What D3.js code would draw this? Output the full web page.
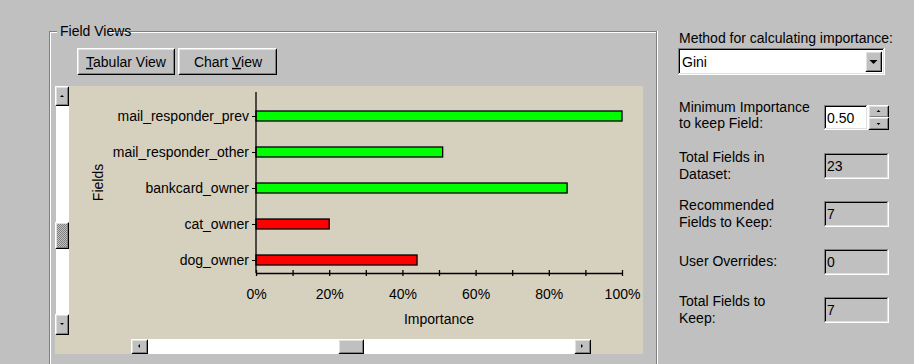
<!DOCTYPE html>
<html>
<head>
<meta charset="UTF-8">
<title>Field Views</title>
<style>
  body { margin: 0; background: #c0c0c0; }
  svg { display: block; font-family: "Liberation Sans", Arial, sans-serif; font-size: 14px; }
</style>
</head>
<body>
<script src="https://d3js.org/d3.v7.min.js"></script>
<svg width="914" height="364"></svg>
<script>
    let svg = d3.select("svg");

    // chart data
    let fields = ["mail_responder_prev", "mail_responder_other", "bankcard_owner", "cat_owner", "dog_owner"];
    let importance = [1.00, 0.51, 0.85, 0.20, 0.44];
    let kept = [true, true, true, false, false];
    let xTicks = [0, 0.1, 0.2, 0.3, 0.4, 0.5, 0.6, 0.7, 0.8, 0.9, 1.0];
    let xLabels = [0, 0.2, 0.4, 0.6, 0.8, 1.0];

    // side panel values
    let methodLabel = ["Method for calculating importance:"];
    let methodValue = "Gini";
    let minLabel = ["Minimum Importance", "to keep Field:"];
    let minValue = "0.50";
    let infoLabels = [
        ["Total Fields in", "Dataset:"],
        ["Recommended", "Fields to Keep:"],
        ["User Overrides:"],
        ["Total Fields to", "Keep:"]
    ];
    let infoValues = ["23", "7", "0", "7"];

    // classic windows 3d border
    function bevel(g, x, y, w, h, fill, tlo, bro, tli, bri) {
        g.append("rect").attr("x", x).attr("y", y).attr("width", w).attr("height", h).attr("fill", fill);
        let p = (d, c) => g.append("path").attr("d", d).attr("fill", "none").attr("stroke", c).attr("shape-rendering", "crispEdges");
        p(`M${x + 0.5},${y + h - 1}V${y + 0.5}H${x + w - 1}`, tlo);
        p(`M${x + 0.5},${y + h - 0.5}H${x + w - 0.5}V${y + 0.5}`, bro);
        p(`M${x + 1.5},${y + h - 2}V${y + 1.5}H${x + w - 2}`, tli);
        p(`M${x + 1.5},${y + h - 1.5}H${x + w - 1.5}V${y + 1.5}`, bri);
    }
    let raised = (g, x, y, w, h, fill) => bevel(g, x, y, w, h, fill || "#c0c0c0", "#ffffff", "#000000", "#dfdfdf", "#808080");
    let sunken = (g, x, y, w, h, fill) => bevel(g, x, y, w, h, fill, "#808080", "#ffffff", "#000000", "#dfdfdf");

    function arrow(g, cx, cy, dir, s) {
        let pts;
        if (dir == "up") pts = [[cx - s, cy + s / 2], [cx + s, cy + s / 2], [cx, cy - s / 2]];
        if (dir == "down") pts = [[cx - s, cy - s / 2], [cx + s, cy - s / 2], [cx, cy + s / 2]];
        if (dir == "left") pts = [[cx + s / 2, cy - s], [cx + s / 2, cy + s], [cx - s / 2, cy]];
        if (dir == "right") pts = [[cx - s / 2, cy - s], [cx - s / 2, cy + s], [cx + s / 2, cy]];
        g.append("polygon").attr("points", pts.map(p => p.join(",")).join(" ")).attr("fill", "#000");
    }

    let defs = svg.append("defs");
    let pat = defs.append("pattern").attr("id", "dither").attr("width", 2).attr("height", 2)
        .attr("patternUnits", "userSpaceOnUse");
    pat.append("rect").attr("width", 2).attr("height", 2).attr("fill", "#c0c0c0");
    pat.append("rect").attr("width", 1).attr("height", 1).attr("fill", "#808080");
    pat.append("rect").attr("x", 1).attr("y", 1).attr("width", 1).attr("height", 1).attr("fill", "#808080");

    // group box
    let frame = svg.append("g").attr("shape-rendering", "crispEdges").attr("fill", "none");
    frame.append("path").attr("d", "M49.5,364V31.5H656.5V364").attr("stroke", "#808080");
    frame.append("path").attr("d", "M50.5,364V32.5H655.5M657.5,31V364").attr("stroke", "#ffffff");
    svg.append("rect").attr("x", 57).attr("y", 24).attr("width", 51).attr("height", 14).attr("fill", "#c0c0c0");
    svg.append("text").attr("x", 60).attr("y", 36).text("Field Views");

    // buttons
    let btns = svg.append("g");
    raised(btns, 77, 48, 98, 27);
    raised(btns, 178, 48, 99, 27);
    let t1 = btns.append("text").attr("x", 126).attr("y", 62).attr("dy", "0.35em").attr("text-anchor", "middle");
    t1.append("tspan").attr("text-decoration", "underline").text("T");
    t1.append("tspan").text("abular View");
    let t2 = btns.append("text").attr("x", 228).attr("y", 62).attr("dy", "0.35em").attr("text-anchor", "middle");
    t2.append("tspan").text("Chart ");
    t2.append("tspan").attr("text-decoration", "underline").text("V");
    t2.append("tspan").text("iew");

    // chart panel
    svg.append("rect").attr("x", 55).attr("y", 86).attr("width", 588).attr("height", 268).attr("fill", "#d6d0bf");

    // vertical scrollbar
    let vs = svg.append("g");
    vs.append("rect").attr("x", 55).attr("y", 86).attr("width", 14).attr("height", 249).attr("fill", "#ffffff");
    vs.append("rect").attr("x", 55).attr("y", 86).attr("width", 1).attr("height", 249).attr("fill", "#c0c0c0");
    raised(vs, 55, 86, 14, 20);
    arrow(vs, 62, 96, "up", 2);
    raised(vs, 55, 222, 14, 27, "url(#dither)");
    raised(vs, 55, 314, 14, 21);
    arrow(vs, 62, 324, "down", 2);

    // horizontal scrollbar
    let hs = svg.append("g");
    hs.append("rect").attr("x", 131).attr("y", 339).attr("width", 460).attr("height", 15).attr("fill", "#ffffff");
    raised(hs, 131, 339, 17, 15);
    arrow(hs, 139, 346, "left", 2);
    raised(hs, 338, 339, 26, 15);
    raised(hs, 574, 339, 17, 15);
    arrow(hs, 582, 346, "right", 2);

    // scales
    let x = d3.scaleLinear().domain([0, 1]).range([256, 622]);
    let y = d3.scalePoint().domain(fields).range([116, 260]);
    let axisY = 273;

    let chart = svg.append("g");

    // bars
    chart.selectAll("rect.bar")
        .data(fields).enter()
        .append("rect")
        .attr("class", "bar")
        .attr("x", x(0))
        .attr("y", d => y(d) - 5)
        .attr("width", (d, i) => x(importance[i]) - x(0))
        .attr("height", 10)
        .attr("fill", (d, i) => kept[i] ? "#00ff00" : "#ff0000")
        .attr("stroke", "#000")
        .attr("stroke-width", 1.3);

    // y axis
    let yAxis = chart.append("g")
        .attr("transform", `translate(${x(0)},0)`)
        .call(d3.axisLeft(y).tickSizeInner(4).tickSizeOuter(0).tickPadding(3));
    yAxis.select(".domain").remove();
    yAxis.selectAll("text").attr("font-size", 14).attr("font-family", "Liberation Sans, Arial, sans-serif").attr("fill", "#000");
    yAxis.selectAll("line").attr("stroke", "#000");
    chart.append("line").attr("x1", x(0)).attr("x2", x(0)).attr("y1", 92).attr("y2", axisY)
        .attr("stroke", "#000").attr("stroke-width", 1.3);

    // x axis
    let xAxis = chart.append("g")
        .attr("transform", `translate(0,${axisY})`)
        .call(d3.axisBottom(x).tickValues(xTicks).tickSizeInner(3).tickSizeOuter(0)
            .tickFormat(d => xLabels.some(v => Math.abs(v - d) < 1e-9) ? d3.format(".0%")(d) : ""));
    xAxis.select(".domain").attr("stroke", "#000").attr("stroke-width", 1.3);
    xAxis.selectAll(".tick line").attr("y1", -3).attr("stroke", "#000").attr("stroke-width", 1.3);
    xAxis.selectAll(".tick text").attr("y", 21).attr("dy", "0.35em")
        .attr("font-size", 14).attr("font-family", "Liberation Sans, Arial, sans-serif").attr("fill", "#000");

    chart.append("text").attr("x", x(0.5)).attr("y", 319).attr("dy", "0.35em")
        .attr("text-anchor", "middle").text("Importance");
    chart.append("text").attr("transform", `translate(98,${(92 + axisY) / 2}) rotate(-90)`)
        .attr("dy", "0.35em").attr("text-anchor", "middle").text("Fields");

    // right panel
    let side = svg.append("g");
    side.append("text").attr("x", 679).attr("y", 38).attr("dy", "0.35em").text(methodLabel[0]);
    sunken(side, 678, 48, 207, 27, "#ffffff");
    side.append("text").attr("x", 682).attr("y", 62).attr("dy", "0.35em").text(methodValue);
    raised(side, 865, 51, 17, 21);
    arrow(side, 873.5, 62, "down", 4);

    minLabel.forEach((s, i) => side.append("text").attr("x", 679).attr("y", 107 + i * 16).attr("dy", "0.35em").text(s));
    sunken(side, 824, 105, 44, 25, "#ffffff");
    side.append("text").attr("x", 827).attr("y", 118).attr("dy", "0.35em").text(minValue);
    raised(side, 868, 105, 21, 13);
    arrow(side, 878.5, 111, "up", 2);
    raised(side, 868, 117, 21, 13);
    arrow(side, 878.5, 124, "down", 2);

    let rowTops = [153, 201, 249, 297];
    infoLabels.forEach((lines, i) => {
        let top = rowTops[i];
        let cy = top + 13;
        lines.forEach((s, j) => {
            let ly = lines.length == 1 ? cy - 1 : top + 4 + j * 17.5;
            side.append("text").attr("x", 679).attr("y", ly).attr("dy", "0.35em").text(s);
        });
        sunken(side, 824, top, 65, 26, "#c0c0c0");
        side.append("text").attr("x", 827).attr("y", cy).attr("dy", "0.35em").text(infoValues[i]);
    });
</script>
</body>
</html>
